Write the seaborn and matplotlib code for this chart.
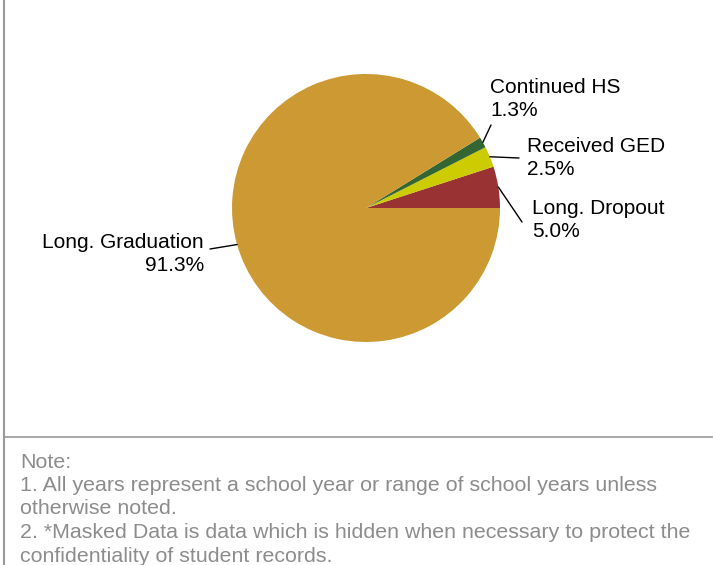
import matplotlib
matplotlib.use("Agg")
import matplotlib.pyplot as plt
from matplotlib.lines import Line2D
import numpy as np
import seaborn as sns

# data, in drawing order (counter-clockwise from 3 o'clock)
labels = ["Long. Dropout", "Received GED", "Continued HS", "Long. Graduation"]
values = [5.0, 2.5, 1.3, 91.3]
colors = ["#993333", "#CCCC00", "#336633", "#CC9933"]

# where each label block is centred (pixels from top-left) and its alignment
label_pos = [(532, 220), (527, 158), (490, 99), (204, 254)]
label_ha = ["left", "left", "left", "right"]
line_end = [(522, 222), (519, 158), (491, 125), (210, 249)]

notes = [
    "Note:",
    "1. All years represent a school year or range of school years unless",
    "otherwise noted.",
    "2. *Masked Data is data which is hidden when necessary to protect the",
    "confidentiality of student records.",
]

sns.set_theme(style="white")
plt.rcParams["font.family"] = ["Liberation Sans", "DejaVu Sans"]

W, H = 713, 565
cx, cy, r = 366, 208, 134
fig = plt.figure(figsize=(W / 100, H / 100), dpi=100)
ax = fig.add_axes([0, 0, 1, 1])


def px(x, y):
    return (x - cx) / r, (cy - y) / r


wedges, _ = ax.pie(values, colors=colors, startangle=0, counterclock=True,
                   radius=1, center=(0, 0), wedgeprops=dict(linewidth=0),
                   frame=True)
ax.set_xlim(-cx / r, (W - cx) / r)
ax.set_ylim(-(H - cy) / r, cy / r)
ax.set_aspect("equal")
ax.axis("off")

for w, lab, v, (tx, ty), ha, (lx, ly) in zip(wedges, labels, values,
                                              label_pos, label_ha, line_end):
    ang = np.deg2rad((w.theta1 + w.theta2) / 2)
    ex, ey = np.cos(ang), np.sin(ang)
    ax.plot([ex, px(lx, ly)[0]], [ey, px(lx, ly)[1]], color="black", lw=1)
    ax.text(*px(tx, ty), f"{lab}\n{v:.1f}%", ha=ha, va="center",
            fontsize=15, color="black", linespacing=1.27,
            multialignment=ha)

# frame lines
fig.add_artist(Line2D([3.5 / W, 3.5 / W], [0, 1], color="#999999", lw=1.5))
fig.add_artist(Line2D([3.5 / W, 1], [1 - 437 / H, 1 - 437 / H],
                      color="#999999", lw=1.2))

for i, t in enumerate(notes):
    fig.text(20 / W, 1 - (462 + i * 23.5) / H, t, ha="left", va="center",
             fontsize=15.4, color="#8c8c8c")

fig.savefig("out.png", dpi=100)
